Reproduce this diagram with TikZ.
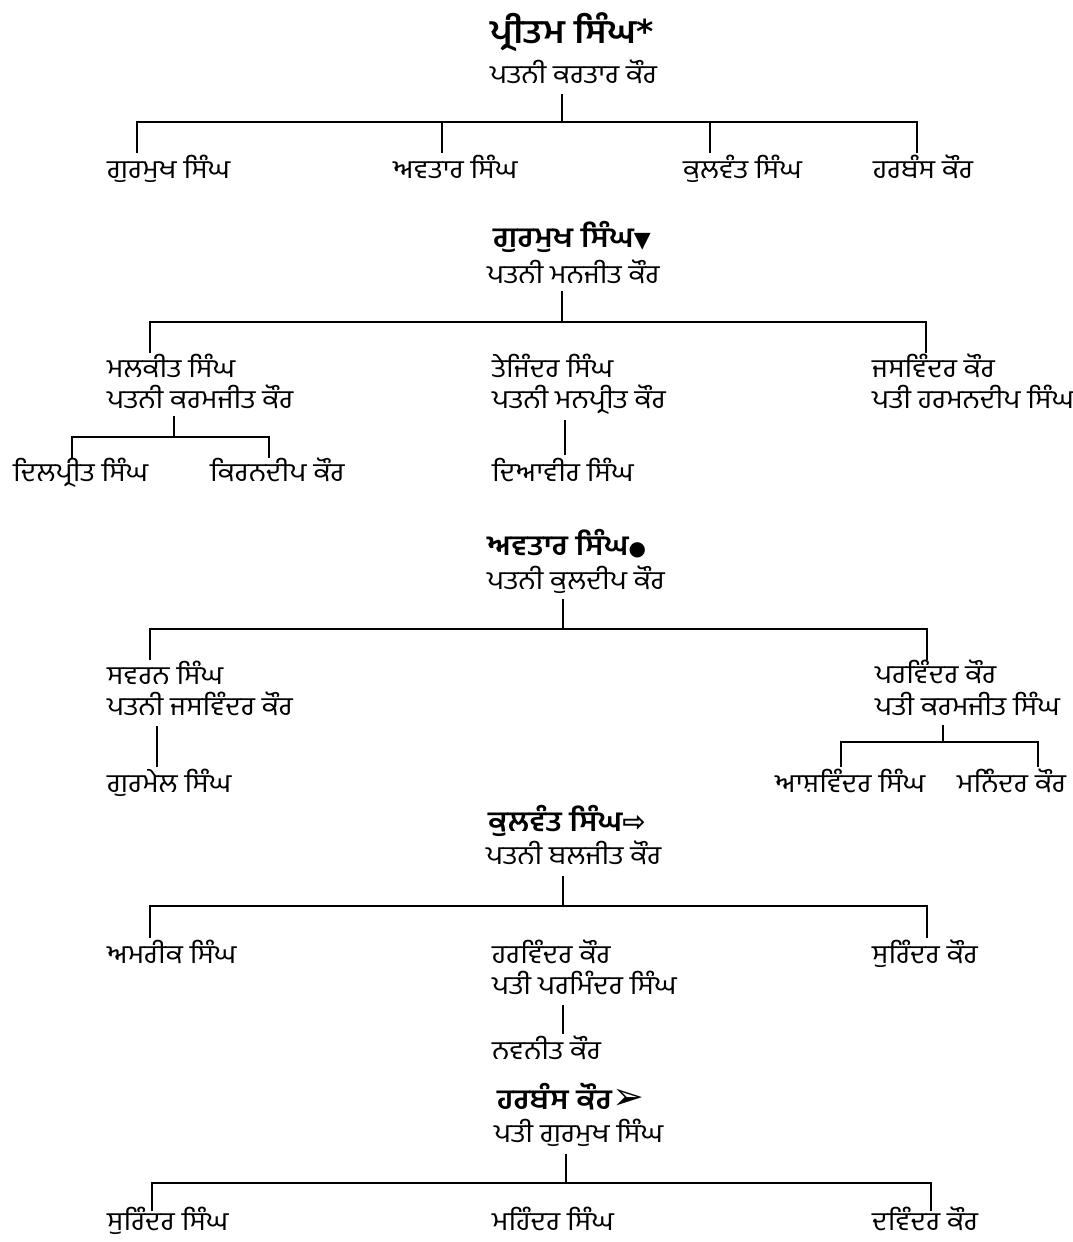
\documentclass[tikz,border=0pt]{standalone}
\usepackage{fontspec}
\newfontfamily\pa[Script=Gurmukhi,FakeStretch=1.1]{Hind Jalandhar}
\newfontfamily\symf{DejaVu Sans}
\begin{document}
\begin{tikzpicture}[x=1pt,y=-1pt,
  nm/.style={font=\pa\fontsize{26}{30}\selectfont, anchor=base west, inner sep=0pt},
  hd/.style={font=\pa\bfseries\fontsize{28}{32}\selectfont, anchor=base west, inner sep=0pt},
  hdbig/.style={font=\pa\bfseries\fontsize{33}{36}\selectfont, anchor=base west, inner sep=0pt},
  ln/.style={line width=2pt, line cap=butt}]
\useasboundingbox (0,0) rectangle (1073,1242);
% ---------- Section 1
\node[hdbig] (p) at (490,43) {ਪ੍ਰੀਤਮ ਸਿੰਘ{\symf*}};
\node[nm] (pw) at (490,83) {ਪਤਨੀ ਕਰਤਾਰ ਕੌਰ};
\node[nm] (c1) at (107,178) {ਗੁਰਮੁਖ ਸਿੰਘ};
\node[nm] (c2) at (393,178) {ਅਵਤਾਰ ਸਿੰਘ};
\node[nm] (c3) at (683,178) {ਕੁਲਵੰਤ ਸਿੰਘ};
\node[nm] (c4) at (873,178) {ਹਰਬੰਸ ਕੌਰ};
\coordinate (p-top) at (562,94);  \coordinate (p-bar) at (562,122);
\coordinate (p-l) at (137,122);   \coordinate (p-r) at (917,122);
\coordinate (c1-t) at (137,153);  \coordinate (c2-t) at (442,153);
\coordinate (c3-t) at (710,153);  \coordinate (c4-t) at (917,153);
\draw[ln] (p-top) -- (p-bar);
\draw[ln] (c1-t) -- (p-l) -- (p-r) -- (c4-t);
\draw[ln] (c2-t) -- (c2-t |- p-bar);
\draw[ln] (c3-t) -- (c3-t |- p-bar);
% ---------- Section 2
\node[hd] (g) at (493,247) {ਗੁਰਮੁਖ ਸਿੰਘ{\symf\fontsize{22}{24}\selectfont▼}};
\node[nm] (gw) at (487,283) {ਪਤਨੀ ਮਨਜੀਤ ਕੌਰ};
\node[nm] (g1) at (107,377) {ਮਲਕੀਤ ਸਿੰਘ};
\node[nm] (g1w) at (107,408) {ਪਤਨੀ ਕਰਮਜੀਤ ਕੌਰ};
\node[nm] (g11) at (13,481) {ਦਿਲਪ੍ਰੀਤ ਸਿੰਘ};
\node[nm] (g12) at (210,481) {ਕਿਰਨਦੀਪ ਕੌਰ};
\node[nm] (g2) at (492,377) {ਤੇਜਿੰਦਰ ਸਿੰਘ};
\node[nm] (g2w) at (492,408) {ਪਤਨੀ ਮਨਪ੍ਰੀਤ ਕੌਰ};
\node[nm] (g21) at (492,481) {ਦਿਆਵੀਰ ਸਿੰਘ};
\node[nm] (g3) at (872,377) {ਜਸਵਿੰਦਰ ਕੌਰ};
\node[nm] (g3w) at (872,408) {ਪਤੀ ਹਰਮਨਦੀਪ ਸਿੰਘ};
\coordinate (g-top) at (562,291); \coordinate (g-bar) at (562,322);
\coordinate (g1-t) at (150,353);  \coordinate (g3-t) at (926,353);
\draw[ln] (g-top) -- (g-bar);
\draw[ln] (g1-t) -- (g1-t |- g-bar) -- (g3-t |- g-bar) -- (g3-t);
\coordinate (g1-top) at (174,416); \coordinate (g1-bar) at (174,437);
\coordinate (g11-t) at (72,458);   \coordinate (g12-t) at (269,458);
\draw[ln] (g1-top) -- (g1-bar);
\draw[ln] (g11-t) -- (g11-t |- g1-bar) -- (g12-t |- g1-bar) -- (g12-t);
\coordinate (g2-top) at (565,420); \coordinate (g21-t) at (565,455);
\draw[ln] (g2-top) -- (g21-t);
% ---------- Section 3
\node[hd] (a) at (487,555) {ਅਵਤਾਰ ਸਿੰਘ{\symf\fontsize{20}{22}\selectfont●}};
\node[nm] (aw) at (487,589) {ਪਤਨੀ ਕੁਲਦੀਪ ਕੌਰ};
\node[nm] (a1) at (107,684) {ਸਵਰਨ ਸਿੰਘ};
\node[nm] (a1w) at (107,715) {ਪਤਨੀ ਜਸਵਿੰਦਰ ਕੌਰ};
\node[nm] (a11) at (107,792) {ਗੁਰਮੇਲ ਸਿੰਘ};
\node[nm] (a2) at (875,683) {ਪਰਵਿੰਦਰ ਕੌਰ};
\node[nm] (a2w) at (875,715) {ਪਤੀ ਕਰਮਜੀਤ ਸਿੰਘ};
\node[nm] (a21) at (775,792) {ਆਸ਼ਵਿੰਦਰ ਸਿੰਘ};
\node[nm] (a22) at (957,792) {ਮਨਿੰਦਰ ਕੌਰ};
\coordinate (a-top) at (563,599); \coordinate (a-bar) at (563,629);
\coordinate (a1-t) at (150,660);  \coordinate (a2-t) at (927,660);
\draw[ln] (a-top) -- (a-bar);
\draw[ln] (a1-t) -- (a1-t |- a-bar) -- (a2-t |- a-bar) -- (a2-t);
\coordinate (a1-top) at (157,726); \coordinate (a11-t) at (157,767);
\draw[ln] (a1-top) -- (a11-t);
\coordinate (a2-top) at (943,725); \coordinate (a2-bar) at (943,742);
\coordinate (a21-t) at (841,767);  \coordinate (a22-t) at (1038,767);
\draw[ln] (a2-top) -- (a2-bar);
\draw[ln] (a21-t) -- (a21-t |- a2-bar) -- (a22-t |- a2-bar) -- (a22-t);
% ---------- Section 4
\node[hd] (k) at (488,831) {ਕੁਲਵੰਤ ਸਿੰਘ{\symf\fontsize{28}{30}\selectfont⇨}};
\node[nm] (kw) at (486,864) {ਪਤਨੀ ਬਲਜੀਤ ਕੌਰ};
\node[nm] (k1) at (107,963) {ਅਮਰੀਕ ਸਿੰਘ};
\node[nm] (k2) at (492,963) {ਹਰਵਿੰਦਰ ਕੌਰ};
\node[nm] (k2w) at (492,994) {ਪਤੀ ਪਰਮਿੰਦਰ ਸਿੰਘ};
\node[nm] (k21) at (492,1059) {ਨਵਨੀਤ ਕੌਰ};
\node[nm] (k3) at (872,963) {ਸੁਰਿੰਦਰ ਕੌਰ};
\coordinate (k-top) at (563,876); \coordinate (k-bar) at (563,906);
\coordinate (k1-t) at (150,938);  \coordinate (k3-t) at (927,938);
\draw[ln] (k-top) -- (k-bar);
\draw[ln] (k1-t) -- (k1-t |- k-bar) -- (k3-t |- k-bar) -- (k3-t);
\coordinate (k2-top) at (563,1005); \coordinate (k21-t) at (563,1034);
\draw[ln] (k2-top) -- (k21-t);
% ---------- Section 5
\node[hd] (h) at (497,1109) {ਹਰਬੰਸ ਕੌਰ{\symf\fontsize{38}{40}\selectfont➢}};
\node[nm] (hw) at (494,1142) {ਪਤੀ ਗੁਰਮੁਖ ਸਿੰਘ};
\node[nm, text depth=6pt] (h1) at (107,1230) {ਸੁਰਿੰਦਰ ਸਿੰਘ};
\node[nm, text depth=6pt] (h2) at (492,1230) {ਮਹਿੰਦਰ ਸਿੰਘ};
\node[nm, text depth=6pt] (h3) at (872,1230) {ਦਵਿੰਦਰ ਕੌਰ};
\coordinate (h-top) at (566,1154); \coordinate (h-bar) at (566,1183);
\coordinate (h1-t) at (152,1211);  \coordinate (h3-t) at (931,1211);
\draw[ln] (h-top) -- (h-bar);
\draw[ln] (h1-t) -- (h1-t |- h-bar) -- (h3-t |- h-bar) -- (h3-t);
\end{tikzpicture}
\end{document}
